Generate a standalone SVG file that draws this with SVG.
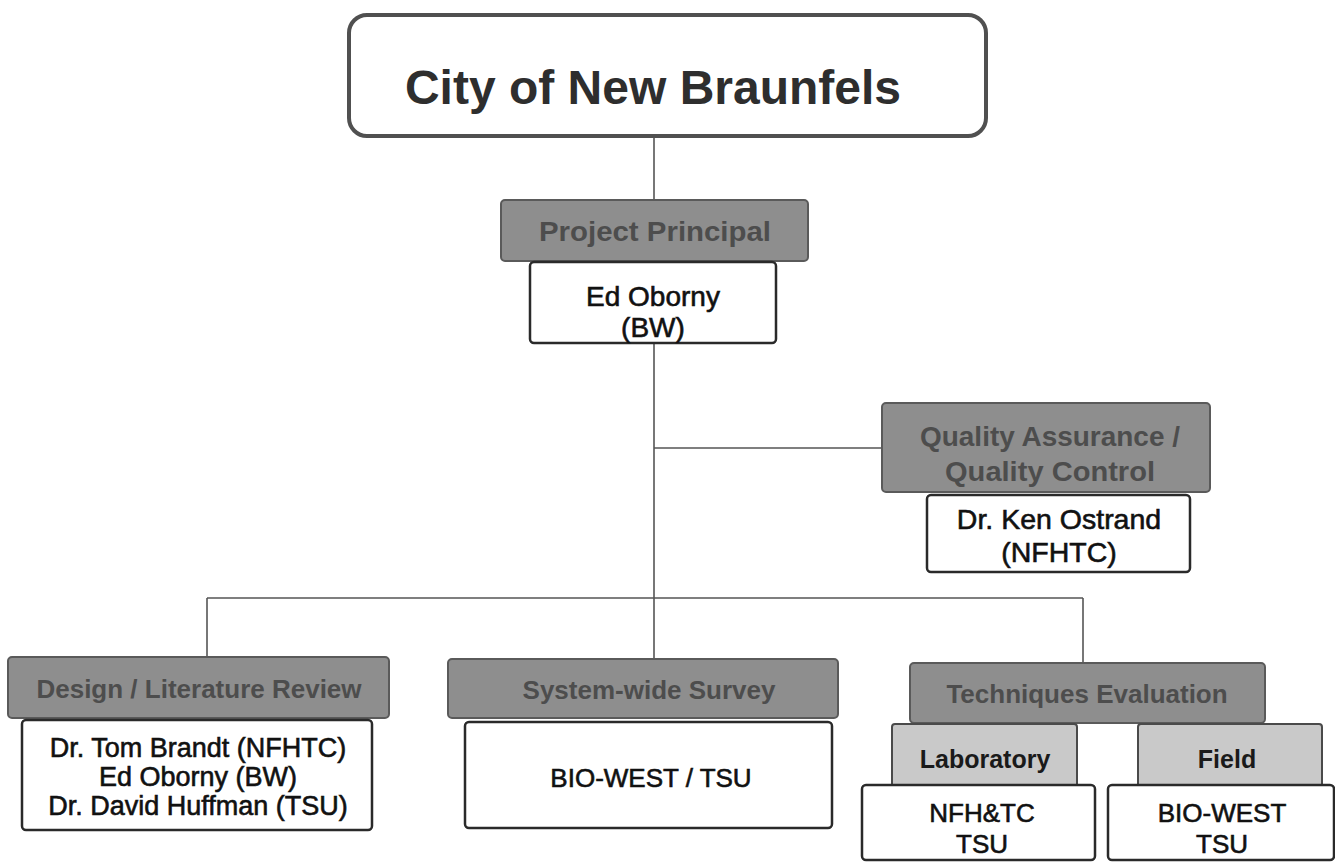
<svg xmlns="http://www.w3.org/2000/svg" width="1335" height="863" viewBox="0 0 1335 863">
<style>
.hdr{fill:#8e8e8e;stroke:#5a5a5a;stroke-width:2}
.sub{fill:#c9c9c9;stroke:#4a4a4a;stroke-width:2}
.box{fill:#ffffff;stroke:#2a2a2a;stroke-width:2.5}
.ht{font-family:"Liberation Sans",Arial,sans-serif;font-weight:bold;font-size:26px;fill:#4d4d4d;text-anchor:middle}
.st{font-family:"Liberation Sans",Arial,sans-serif;font-weight:bold;font-size:25px;fill:#1a1a1a;text-anchor:middle}
.bt{font-family:"Liberation Sans",Arial,sans-serif;font-size:26px;fill:#111;stroke:#111;stroke-width:0.6;text-anchor:middle}
.ln{stroke:#555;stroke-width:1.6;fill:none}
</style>
<rect width="1335" height="863" fill="#ffffff"/>
<g id="connectors">
<line class="ln" x1="654" y1="137" x2="654" y2="200"/>
<line class="ln" x1="654" y1="344" x2="654" y2="659"/>
<line class="ln" x1="654" y1="448" x2="883" y2="448"/>
<line class="ln" x1="207" y1="598" x2="1083" y2="598"/>
<line class="ln" x1="207" y1="598" x2="207" y2="658"/>
<line class="ln" x1="1083" y1="598" x2="1083" y2="664"/>
</g>
<g id="city">
<rect x="349" y="15" width="637" height="121" rx="18" fill="#fff" stroke="#505050" stroke-width="4"/>
<text x="653" y="104" font-family="'Liberation Sans',Arial,sans-serif" font-weight="bold" font-size="48" fill="#2e2e2e" text-anchor="middle">City of New Braunfels</text>
</g>
<g id="principal">
<rect class="hdr" x="501" y="200" width="307" height="61" rx="4"/>
<text class="ht" x="655" y="241" style="font-size:28px" textLength="232" lengthAdjust="spacingAndGlyphs">Project Principal</text>
<rect class="box" x="530" y="262" width="246" height="81" rx="4"/>
<text class="bt" x="653" y="306" style="font-size:28px">Ed Oborny</text>
<text class="bt" x="653" y="337" style="font-size:28px">(BW)</text>
</g>
<g id="qaqc">
<rect class="hdr" x="882" y="403" width="328" height="89" rx="4"/>
<text class="ht" x="1050" y="446" style="font-size:28px" textLength="260" lengthAdjust="spacingAndGlyphs">Quality Assurance /</text>
<text class="ht" x="1050" y="481" style="font-size:28px" textLength="210" lengthAdjust="spacingAndGlyphs">Quality Control</text>
<rect class="box" x="927" y="495" width="263" height="77" rx="4"/>
<text class="bt" x="1059" y="529" style="font-size:28.5px">Dr. Ken Ostrand</text>
<text class="bt" x="1059" y="562" style="font-size:28.5px">(NFHTC)</text>
</g>
<g id="design">
<rect class="hdr" x="8" y="657" width="381" height="61" rx="4"/>
<text class="ht" x="199" y="698">Design / Literature Review</text>
<rect class="box" x="22" y="720" width="350" height="110" rx="4"/>
<text class="bt" x="198" y="757" style="font-size:27px">Dr. Tom Brandt (NFHTC)</text>
<text class="bt" x="198" y="786" style="font-size:27px">Ed Oborny (BW)</text>
<text class="bt" x="198" y="815" style="font-size:27px">Dr. David Huffman (TSU)</text>
</g>
<g id="survey">
<rect class="hdr" x="448" y="659" width="390" height="59" rx="4"/>
<text class="ht" x="649" y="699">System-wide Survey</text>
<rect class="box" x="465" y="722" width="367" height="106" rx="4"/>
<text class="bt" x="651" y="787">BIO-WEST / TSU</text>
</g>
<g id="techniques">
<rect class="hdr" x="910" y="663" width="355" height="60" rx="4"/>
<text class="ht" x="1087" y="703">Techniques Evaluation</text>
</g>
<g id="laboratory">
<rect class="sub" x="892" y="724" width="185" height="66" rx="3"/>
<text class="st" x="985" y="768">Laboratory</text>
<rect class="box" x="862" y="785" width="233" height="75" rx="4"/>
<text class="bt" x="982" y="822">NFH&amp;TC</text>
<text class="bt" x="982" y="853">TSU</text>
</g>
<g id="field">
<rect class="sub" x="1138" y="724" width="184" height="66" rx="3"/>
<text class="st" x="1227" y="768">Field</text>
<rect class="box" x="1108" y="785" width="226" height="75" rx="4"/>
<text class="bt" x="1222" y="822">BIO-WEST</text>
<text class="bt" x="1222" y="853">TSU</text>
</g>
</svg>
